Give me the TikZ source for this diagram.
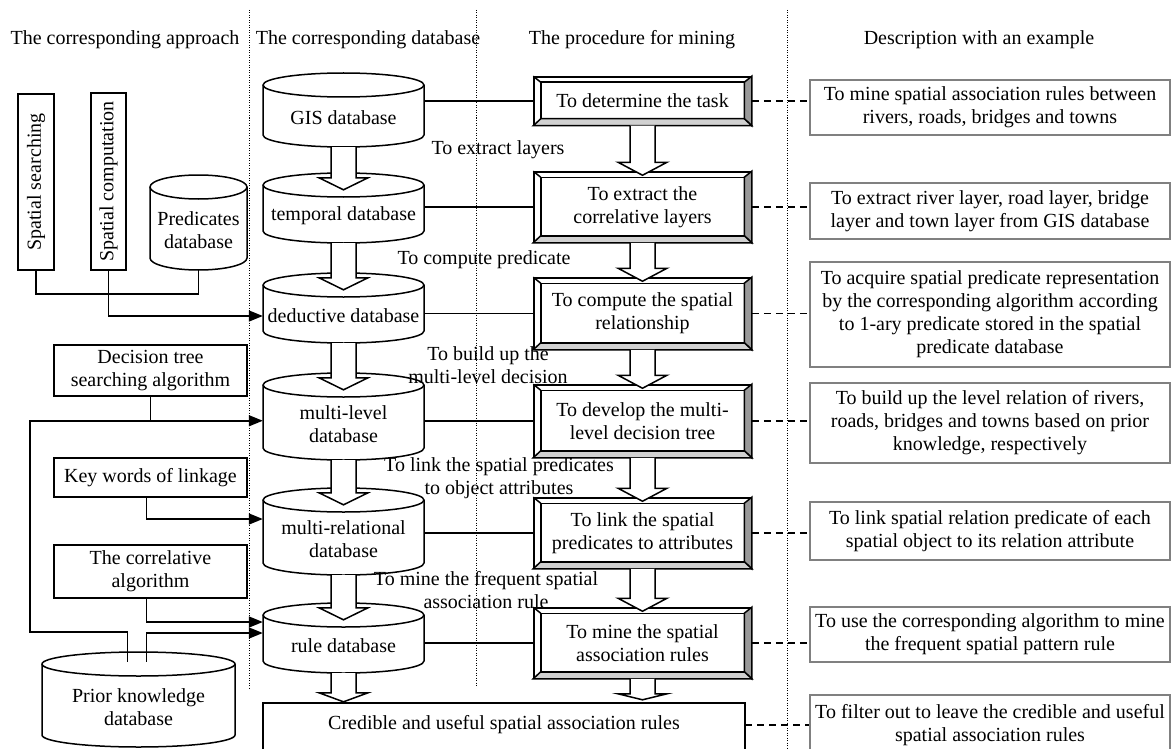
\documentclass[tikz,border=0pt]{standalone}
\usepackage{fontspec}
\setmainfont{Liberation Serif}
\usetikzlibrary{arrows.meta,calc}
\definecolor{bevdark}{gray}{0.6}
\definecolor{bevlight}{gray}{0.82}
\definecolor{descgray}{gray}{0.5}
\tikzset{
  cylline/.style={line width=1.5pt, draw=black, fill=white},
  cyltext/.style={inner sep=0pt, align=center},
  procbox/.style={draw=black, line width=1.5pt, fill=white, minimum width=217pt, align=center, inner sep=0pt},
  descbox/.style={draw=descgray, line width=2.5pt, fill=white, minimum width=360pt, align=center, inner sep=0pt},
  leftbox/.style={draw=black, line width=1.5pt, fill=white, align=center, inner sep=0pt},
  conn/.style={line width=1.5pt},
  arr/.style={line width=1.5pt, -{Triangle[length=14pt,width=11pt]}},
  dashconn/.style={line width=1.5pt, dash pattern=on 7pt off 5pt},
  sepline/.style={line width=1pt, dash pattern=on 1pt off 1.5pt},
  blockarrow/.style={line width=1.5pt, draw=black, fill=white, line join=miter},
  lbl/.style={align=center, inner sep=0pt},
  hdr/.style={inner sep=0pt},
}
% cylinder: name, L, R, top, bottom, text
\newcommand\mycyl[6]{%
  \draw[cylline] (#2,{-(#4)-12}) -- (#2,{-(#5)+12}) arc[start angle=180,end angle=360,x radius={(#3-#2)/2},y radius=12] -- (#3,{-(#4)-12}) arc[start angle=0,end angle=180,x radius={(#3-#2)/2},y radius=12] -- cycle;
  \draw[cylline,fill=none] (#2,{-(#4)-12}) arc[start angle=180,end angle=360,x radius={(#3-#2)/2},y radius=12];
  \node[cyltext, minimum width={(#3-#2)*1pt}, minimum height={(#5-#4)*1pt}] (#1) at ({(#2+#3)/2},{-(#4+#5)/2}) {};
  \node[cyltext] (#1t) at ({(#2+#3)/2},{-(#4+#5)/2-8}) {#6};
}
% procedure box: name, top, bottom, text
\newcommand\proc[4]{%
  \node[procbox, minimum height={(#3-#2)*1pt}] (#1) at (642.5,{-(#2+#3)/2}) {#4};
  \filldraw[line width=1.5pt, fill=bevdark] (#1.north east) -- (#1.south east) -- ([shift={(-7.5pt,7pt)}]#1.south east) -- ([shift={(-7.5pt,-6pt)}]#1.north east) -- cycle;
  \filldraw[line width=1.5pt, fill=bevlight] (#1.south west) -- (#1.south east) -- ([shift={(-7.5pt,7pt)}]#1.south east) -- ([shift={(7.5pt,7pt)}]#1.south west) -- cycle;
  \draw[line width=1.5pt] ([shift={(7.5pt,-6pt)}]#1.north west) rectangle ([shift={(-7.5pt,7pt)}]#1.south east);
  \draw[line width=1.5pt] (#1.north west) -- ([shift={(7.5pt,-6pt)}]#1.north west);
}
% description box: name, top, bottom, text
\newcommand\desc[4]{%
  \node[descbox, minimum height={(#3-#2)*1pt}] (#1) at (990,{-(#2+#3)/2}) {#4};
}
% block arrow: from, to, head offset, tip offset (measured downward from to.north)
\newcommand\blockarr[4]{%
  \draw[blockarrow] let \p1=(#1.south), \p2=(#2.north) in
   ({\x1-12.5pt},{\y1}) -- ({\x1-12.5pt},{\y2-(#3)}) -- ({\x1-24.5pt},{\y2-(#3)}) -- ({\x1},{\y2-(#4)}) -- ({\x1+24.5pt},{\y2-(#3)}) -- ({\x1+12.5pt},{\y2-(#3)}) -- ({\x1+12.5pt},{\y1});
}
\begin{document}
\begin{tikzpicture}[x=1pt,y=1pt,font=\fontsize{20}{23}\selectfont]
\useasboundingbox (0,0) rectangle (1172,-749);
\clip (0,0) rectangle (1172,-749);
\fill[white] (0,0) rectangle (1172,-749);

% separators
\draw[sepline] (249,-10) -- (249,-690);
\draw[sepline] (476,-10) -- (476,-687);
\draw[sepline] (787,-10) -- (787,-749);

% headers
\node[hdr] (h1) at (125,-40) {The corresponding approach};
\node[hdr] (h2) at (368,-40) {The corresponding database};
\node[hdr] (h3) at (632,-40) {The procedure for mining};
\node[hdr] (h4) at (979,-40) {Description with an example};

% database column
\mycyl{gis}{263}{424}{73}{147}{GIS database}
\mycyl{tmp}{263}{424}{173}{243}{temporal database}
\mycyl{ded}{263}{424}{273}{343}{deductive database}
\mycyl{ml}{263}{424}{373}{460}{multi-level\\database}
\mycyl{mr}{263}{424}{488}{575}{multi-relational\\database}
\mycyl{rule}{263}{424}{603}{673}{rule database}

% approach column
\node[leftbox, rotate=90, minimum width=176pt, minimum height=36pt] (ss) at (36,-182) {Spatial searching};
\node[leftbox, rotate=90, minimum width=177pt, minimum height=35pt] (sc) at (108.5,-181.5) {Spatial computation};
\mycyl{pred}{150}{247}{175}{270}{Predicates\\database}
\node[leftbox, minimum width=193pt, minimum height=51pt] (dt) at (150.5,-370.5) {Decision tree\\searching algorithm};
\node[leftbox, minimum width=193pt, minimum height=39pt] (kw) at (150.5,-477.5) {Key words of linkage};
\node[leftbox, minimum width=193pt, minimum height=53pt] (ca) at (150.5,-571.5) {The correlative\\algorithm};
\mycyl{pk}{42}{235}{652}{747}{Prior knowledge\\database}

% procedure column
\proc{p1}{77}{125}{To determine the task}
\proc{p2}{172}{242}{To extract the\\correlative layers}
\proc{p3}{278}{349}{To compute the spatial\\relationship}
\proc{p4}{385}{457}{To develop the multi-\\level decision tree}
\proc{p5}{498}{568}{To link the spatial\\predicates to attributes}
\proc{p6}{608}{678}{To mine the spatial\\association rules}

% final box
\node[align=center, inner sep=0pt, minimum width=482pt, minimum height=44pt] (cred) at (504,-725) {Credible and useful spatial association rules};
\draw[line width=2pt] ([yshift=-20pt]cred.south west) |- (cred.north east) -- ([yshift=-20pt]cred.south east);

% description column
\desc{d1}{80}{135}{To mine spatial association rules between\\rivers, roads, bridges and towns}
\desc{d2}{183}{239}{To extract river layer, road layer, bridge\\layer and town layer from GIS database}
\desc{d3}{262}{367}{To acquire spatial predicate representation\\by the corresponding algorithm according\\to 1-ary predicate stored in the spatial\\predicate database}
\desc{d4}{383}{463}{To build up the level relation of rivers,\\roads, bridges and towns based on prior\\knowledge, respectively}
\desc{d5}{502}{560}{To link spatial relation predicate of each\\spatial object to its relation attribute}
\desc{d6}{607}{662}{To use the corresponding algorithm to mine\\the frequent spatial pattern rule}
\desc{d7}{695}{755}{To filter out to leave the credible and useful\\spatial association rules}

% labels between columns
\node[lbl] (l1) at (498,-150) {To extract layers};
\node[lbl] (l2) at (484,-260) {To compute predicate};
\node[lbl] (l3) at (488,-365) {To build up the\\multi-level decision};
\node[lbl] (l4) at (499,-478.5) {To link the spatial predicates\\to object attributes};
\node[lbl] (l5) at (486,-590.5) {To mine the frequent spatial\\association rule};

% database -> procedure lines
\foreach \c/\p in {gis/p1,tmp/p2,ded/p3,ml/p4,mr/p5,rule/p6}{
  \draw[conn] (\p.west) -- (\p.west -| \c.east);
}
% procedure -> description dashed lines
\foreach \p/\d in {p1/d1,p2/d2,p3/d3,p4/d4,p5/d5,p6/d6}{
  \draw[dashconn] (\p.east) -- (\p.east -| \d.west);
}
\draw[dashconn] (cred.east) -- (cred.east -| d7.west);

% approach connectors
\draw[conn] (ss.west) -- ++(0,-23) -| (pred.south);
\draw[arr] (sc.west) |- (ded.west |- dedt);
\coordinate (jdt) at ($(dt.south)+(0,-24)$);
\coordinate (pkl) at ($(pk.north)+(-11,-10)$);
\coordinate (pkr) at ($(pk.north)+(8,-10)$);
\coordinate (yl) at (30,-632);
\coordinate (yr) at (0,-633);
\coordinate (yca) at (0,-622);
\coordinate (ykw) at (0,-519);
\draw[conn] (dt.south) -- (jdt);
\draw[arr] (pkl) |- (yl) |- (ml.west |- jdt);
\draw[arr] (pkr) |- (rule.west |- yr);
\draw[arr] ([xshift=-4pt]ca.south) |- (rule.west |- yca);
\draw[arr] ([xshift=-4pt]kw.south) |- (mr.west |- ykw);

% block arrows
\blockarr{gis}{tmp}{5pt}{17pt}
\blockarr{tmp}{ded}{5pt}{17pt}
\blockarr{ded}{ml}{5pt}{17pt}
\blockarr{ml}{mr}{5pt}{17pt}
\blockarr{mr}{rule}{5pt}{17pt}
\blockarr{rule}{cred}{-10pt}{-1pt}
\blockarr{p1}{p2}{-9pt}{4pt}
\blockarr{p2}{p3}{-9pt}{4pt}
\blockarr{p3}{p4}{-9pt}{4pt}
\blockarr{p4}{p5}{-9pt}{4pt}
\blockarr{p5}{p6}{-9pt}{4pt}
\blockarr{p6}{cred}{-9pt}{-3pt}
\end{tikzpicture}
\end{document}
